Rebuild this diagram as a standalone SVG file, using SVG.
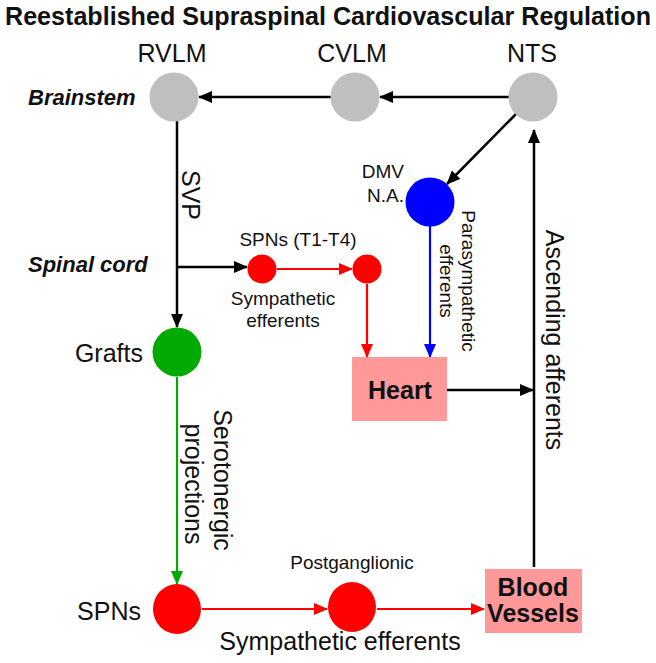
<svg xmlns="http://www.w3.org/2000/svg" width="656" height="663" viewBox="0 0 656 663">
<defs>
<style>
text{font-family:"Liberation Sans",Arial,sans-serif;fill:#111}
.t{font-weight:bold;font-size:25px}
.lg{font-size:25px}
.sm{font-size:19px}
.rg{font-weight:bold;font-style:italic;font-size:22px}
.bx{font-weight:bold;font-size:25px}
.k{stroke:#000;stroke-width:2.5;fill:none}
.r{stroke:#f00;stroke-width:2.2;fill:none}
.g{stroke:#00aa00;stroke-width:2.2;fill:none}
.b{stroke:#0000ff;stroke-width:2.2;fill:none}
</style>
<marker id="ak" markerUnits="userSpaceOnUse" markerWidth="14" markerHeight="12" refX="13" refY="6" orient="auto"><path d="M0,0L14,6L0,12z" fill="#000"/></marker>
<marker id="ar" markerUnits="userSpaceOnUse" markerWidth="14" markerHeight="12" refX="13" refY="6" orient="auto"><path d="M0,0L14,6L0,12z" fill="#f00"/></marker>
<marker id="ag" markerUnits="userSpaceOnUse" markerWidth="14" markerHeight="12" refX="13" refY="6" orient="auto"><path d="M0,0L14,6L0,12z" fill="#00aa00"/></marker>
<marker id="ab" markerUnits="userSpaceOnUse" markerWidth="14" markerHeight="12" refX="13" refY="6" orient="auto"><path d="M0,0L14,6L0,12z" fill="#0000ff"/></marker>
</defs>
<rect width="656" height="663" fill="#fff"/>
<text class="t" x="328" y="25" text-anchor="middle" textLength="646" lengthAdjust="spacingAndGlyphs">Reestablished Supraspinal Cardiovascular Regulation</text>
<text class="rg" x="28" y="105">Brainstem</text>
<text class="rg" x="28" y="272">Spinal cord</text>

<g id="connectors">
<line class="k" x1="509" y1="97" x2="380" y2="97" marker-end="url(#ak)"/>
<line class="k" x1="331" y1="97" x2="199" y2="97" marker-end="url(#ak)"/>
<line class="k" x1="177" y1="121" x2="177" y2="327" marker-end="url(#ak)"/>
<line class="k" x1="177" y1="267" x2="247" y2="267" marker-end="url(#ak)"/>
<line class="r" x1="277" y1="269" x2="352" y2="269" marker-end="url(#ar)"/>
<line class="r" x1="367" y1="284" x2="367" y2="357" marker-end="url(#ar)"/>
<line class="k" x1="516" y1="114" x2="447" y2="184" marker-end="url(#ak)"/>
<line class="b" x1="430" y1="226" x2="430" y2="357" marker-end="url(#ab)"/>
<line class="k" x1="447" y1="390" x2="533" y2="390" marker-end="url(#ak)"/>
<line class="k" x1="534" y1="567" x2="534" y2="130" marker-end="url(#ak)"/>
<line class="g" x1="177" y1="377" x2="177" y2="584" marker-end="url(#ag)"/>
<line class="r" x1="202" y1="609" x2="327" y2="609" marker-end="url(#ar)"/>
<line class="r" x1="377" y1="609" x2="484" y2="609" marker-end="url(#ar)"/>
<text class="lg" transform="translate(182,195) rotate(90)" text-anchor="middle">SVP</text>
<text class="sm" x="283" y="305" text-anchor="middle">Sympathetic</text>
<text class="sm" x="283" y="327" text-anchor="middle">efferents</text>
<text class="sm" transform="translate(462,281) rotate(90)" text-anchor="middle">Parasympathetic</text>
<text class="sm" transform="translate(440,281) rotate(90)" text-anchor="middle">efferents</text>
<text class="lg" transform="translate(546,340) rotate(90)" text-anchor="middle">Ascending afferents</text>
<text class="lg" transform="translate(214,480) rotate(90)" text-anchor="middle">Serotonergic</text>
<text class="lg" transform="translate(185,484) rotate(90)" text-anchor="middle">projections</text>
<text class="lg" x="340" y="650" text-anchor="middle">Sympathetic efferents</text>
</g>

<g id="rvlm"><circle cx="174" cy="97" r="24.5" fill="#bfbfbf"/><text class="lg" x="172" y="62" text-anchor="middle">RVLM</text></g>
<g id="cvlm"><circle cx="355" cy="97" r="24.5" fill="#bfbfbf"/><text class="lg" x="352" y="62" text-anchor="middle">CVLM</text></g>
<g id="nts"><circle cx="533" cy="97" r="24.5" fill="#bfbfbf"/><text class="lg" x="532" y="62" text-anchor="middle">NTS</text></g>
<g id="dmv"><circle cx="430" cy="202" r="24.5" fill="#0000ff"/><text class="sm" x="404" y="178" text-anchor="end">DMV</text><text class="sm" x="404" y="202" text-anchor="end">N.A.</text></g>
<g id="spn-t1"><circle cx="262" cy="269" r="14.5" fill="#f00"/><text class="sm" x="298" y="246" text-anchor="middle">SPNs (T1-T4)</text></g>
<g id="spn-t1b"><circle cx="367" cy="269" r="14.5" fill="#f00"/></g>
<g id="grafts"><circle cx="177" cy="352" r="24.5" fill="#00aa00"/><text class="lg" x="143" y="362" text-anchor="end">Grafts</text></g>
<g id="heart"><rect x="352" y="357" width="95" height="64" fill="#ff9999"/><text class="bx" x="400" y="399" text-anchor="middle">Heart</text></g>
<g id="spns"><ellipse cx="177" cy="609" rx="24" ry="25" fill="#f00"/><text class="lg" x="141" y="620" text-anchor="end">SPNs</text></g>
<g id="postganglionic"><ellipse cx="352" cy="607" rx="24" ry="25" fill="#f00"/><text class="sm" x="352" y="569" text-anchor="middle">Postganglionic</text></g>
<g id="blood"><rect x="485" y="569" width="97" height="64" fill="#ff9999"/><text class="bx" x="533" y="596" text-anchor="middle" font-size="23">Blood</text><text class="bx" x="533" y="622" text-anchor="middle" font-size="23">Vessels</text></g>
</svg>
